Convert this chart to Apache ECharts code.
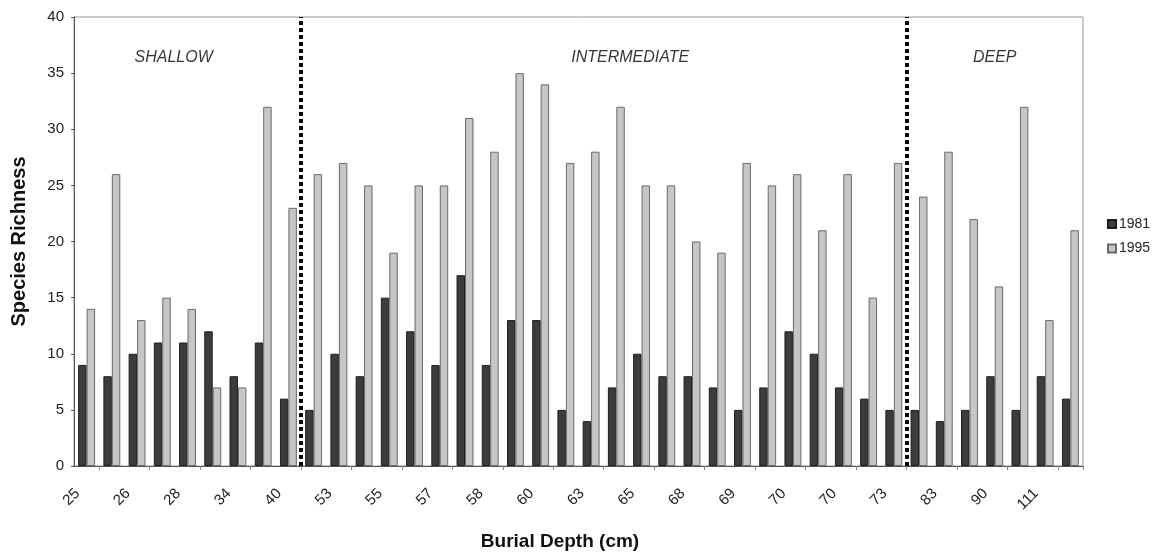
<!DOCTYPE html>
<html>
<head>
<meta charset="utf-8">
<script src="https://cdn.jsdelivr.net/npm/echarts@6/dist/echarts.min.js"></script>
<style>
html,body{margin:0;padding:0;background:#fff;}
#chart{width:1158px;height:556px;}
</style>
</head>
<body>
<div id="chart"></div>
<script>
// Burial depth labels (only every other category is labelled in the original)
const depthLabels = ['25','','26','','28','','34','','40','','53','','55','','57','','58','','60','',
                     '63','','65','','68','','69','','70','','70','','73','','83','','90','','111',''];
const richness1981 = [9,8,10,11,11,12,8,11,6,5,10,8,15,12,9,17,9,13,13,5,4,7,10,8,8,7,5,7,12,10,7,6,5,5,4,5,8,5,8,6];
const richness1995 = [14,26,13,15,14,7,7,32,23,26,27,25,19,25,25,31,28,35,34,27,28,32,25,25,20,19,27,25,26,21,26,15,27,24,28,22,16,32,13,21];
const seriesNames = ['1981','1995'];
const yTicks = [0,5,10,15,20,25,30,35,40];
// zone boundaries (in category units)
const zoneBoundaries = [9, 33];
const zoneNames = ['SHALLOW','INTERMEDIATE','DEEP'];
const zoneLabelX = [3.95, 22.05, 36.5];
const zoneLabelY = 36.4;

const font = 'Liberation Sans, Arial, sans-serif';
const chart = echarts.init(document.getElementById('chart'), null, {renderer:'canvas'});

chart.setOption({
  animation:false,
  backgroundColor:'#fff',
  grid:{left:74,right:75,top:17,bottom:86,show:true,borderColor:'#999',borderWidth:1,containLabel:false},
  legend:{
    orient:'vertical', left:1107, top:217, padding:0,
    icon:'rect',
    itemWidth:8, itemHeight:8, itemGap:10.5,
    textStyle:{fontFamily:font,fontSize:14,color:'#222',padding:[0,0,0,-2]},
    data:seriesNames
  },
  xAxis:[{
    type:'category',
    data:depthLabels,
    boundaryGap:true,
    axisLine:{show:true,lineStyle:{color:'#555',width:1}},
    axisTick:{show:true,length:4,lineStyle:{color:'#888'},interval:(i)=>i%2===1},
    axisLabel:{interval:0,rotate:45,fontFamily:font,fontSize:15,color:'#222',margin:16,padding:[0,13,0,0]},
    name:'Burial Depth (cm)',
    nameLocation:'middle',
    nameGap:66,
    nameTextStyle:{fontFamily:font,fontSize:19,fontWeight:'bold',color:'#111',padding:[0,37,0,0]}
  },{
    type:'value', min:0, max:depthLabels.length, show:false
  }],
  yAxis:{
    type:'value', min:yTicks[0], max:yTicks[yTicks.length-1], interval:5,
    axisLine:{show:true,lineStyle:{color:'#555',width:1}},
    axisTick:{show:true,length:3,lineStyle:{color:'#555'}},
    splitLine:{show:false},
    axisLabel:{fontFamily:font,fontSize:15,color:'#222',margin:10},
    name:'Species Richness',
    nameLocation:'middle',
    nameGap:45,
    nameTextStyle:{fontFamily:font,fontSize:20,fontWeight:'bold',color:'#111'}
  },
  series:[
    {
      name:seriesNames[0], type:'bar', data:richness1981,
      barGap:'0%', barCategoryGap:'33%',
      itemStyle:{color:'#3c3c3c',borderColor:'#1e1e1e',borderWidth:1}
    },
    {
      name:seriesNames[1], type:'bar', data:richness1995,
      barGap:'0%', barCategoryGap:'33%',
      itemStyle:{color:'#c6c6c6',borderColor:'#6a6a6a',borderWidth:1}
    },
    {
      type:'scatter', xAxisIndex:1, symbolSize:0, silent:true,
      data:zoneNames.map((n,i)=>[zoneLabelX[i], zoneLabelY, n]),
      label:{show:true,position:'inside',formatter:(p)=>p.data[2],
        fontFamily:font,fontSize:16,fontStyle:'italic',color:'#000',textBorderWidth:0},
      markLine:{
        silent:true, symbol:['none','none'],
        label:{show:false},
        lineStyle:{color:'#000',width:4,type:[4,3]},
        data:zoneBoundaries.map(b=>({xAxis:b}))
      },
      z:5
    }
  ]
});
</script>
</body>
</html>
